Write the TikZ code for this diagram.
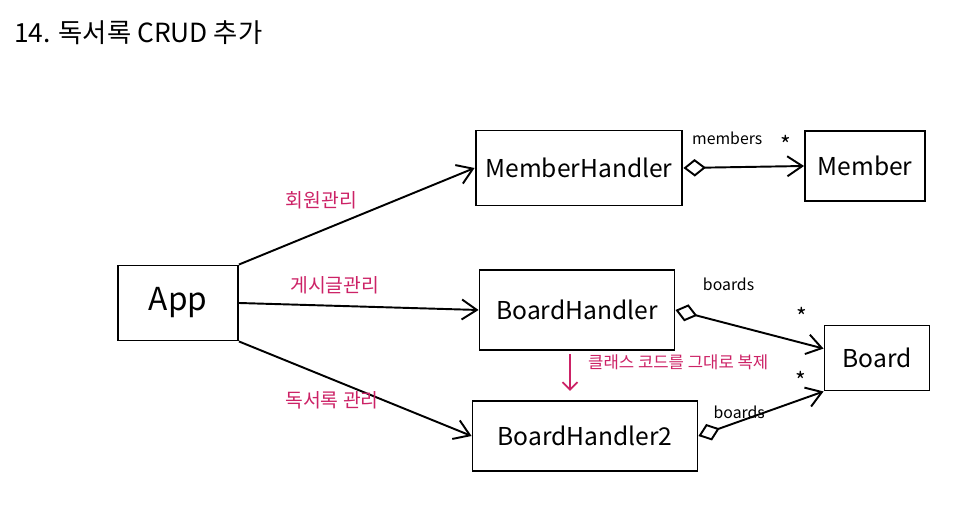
\documentclass[tikz,border=0pt]{standalone}
\usepackage{xcolor}
\usepackage{fontspec}
\setmainfont{Noto Sans CJK KR}
\usepackage{tikz}
\usetikzlibrary{positioning, arrows.meta, calc}
\definecolor{notepink}{RGB}{204,34,102}

\begin{document}
\begin{tikzpicture}[
  x=0.02cm, y=-0.02cm,
  cls/.style={draw, line width=1.1pt, minimum height=15mm, align=center,
              font=\fontsize{14pt}{16pt}\selectfont, inner sep=2mm},
  arr/.style={-{Straight Barb[length=3mm, width=4mm]}, line width=1.1pt},
  agg/.style={{Diamond[open, length=4.5mm, width=3.5mm]}-{Straight Barb[length=3mm, width=4mm]},
              line width=1.1pt},
  note/.style={text=notepink, font=\fontsize{11pt}{13pt}\selectfont},
  role/.style={font=\fontsize{9pt}{10pt}\selectfont, inner sep=1pt, anchor=south west},
  mult/.style={font=\fontsize{13pt}{14pt}\selectfont, inner sep=1pt},
]
\useasboundingbox (0,0) rectangle (974,519);
\node[anchor=west, font=\fontsize{15pt}{17pt}\selectfont] (title) at (8,33)
  {14. 독서록 CRUD 추가};
% classes
\node[cls, minimum width=24mm, font=\fontsize{18pt}{20pt}\selectfont] (App) at (178,303) {App};
\node[cls, minimum width=36mm] (MH) at (579,168) {MemberHandler};
\node[cls, minimum width=24mm, minimum height=14mm] (Member) at (865,166) {Member};
\node[cls, minimum width=39mm, minimum height=16mm] (BH) at (577,310) {BoardHandler};
\node[cls, minimum width=21mm, minimum height=13mm] (Board) at (877,358) {Board};
\node[cls, minimum width=45mm, minimum height=14mm] (BH2) at (585,436) {BoardHandler2};
% App uses handlers
\draw[arr] (App.north east) -- node[note, pos=0.35, above=3mm] {회원관리} (MH.west);
\draw[arr] (App.east) -- node[note, pos=0.4, above=1mm] {게시글관리} (BH.west);
\draw[arr] (App.south east) -- node[note, pos=0.4, below=1mm] {독서록 관리} (BH2.west);
% aggregations
\draw[agg] (MH.east) -- node[role, pos=0.05, yshift=4mm] {members}
  node[mult, pos=0.85, above=2mm] {*} (Member.west);
\draw[agg] (BH.east) -- node[role, pos=0.1, xshift=2mm, yshift=4mm] {boards}
  node[mult, pos=0.85, above=3mm] {*} (Board.170);
\draw[agg] (BH2.east) -- node[role, pos=0.1, yshift=2mm] {boards}
  node[mult, pos=0.88, above left=1mm and 0mm] {*} (Board.south west);
% copy note
\coordinate (cp) at ($(BH.south)+(-7,3)$);
\draw[notepink, -{Straight Barb[length=1.5mm]}, line width=1pt] (cp) -- ++(0,37);
\node[note, anchor=west, font=\fontsize{9.5pt}{11pt}\selectfont] (copy) at ($(cp)+(12,8)$)
  {클래스 코드를 그대로 복제};
\end{tikzpicture}
\end{document}
